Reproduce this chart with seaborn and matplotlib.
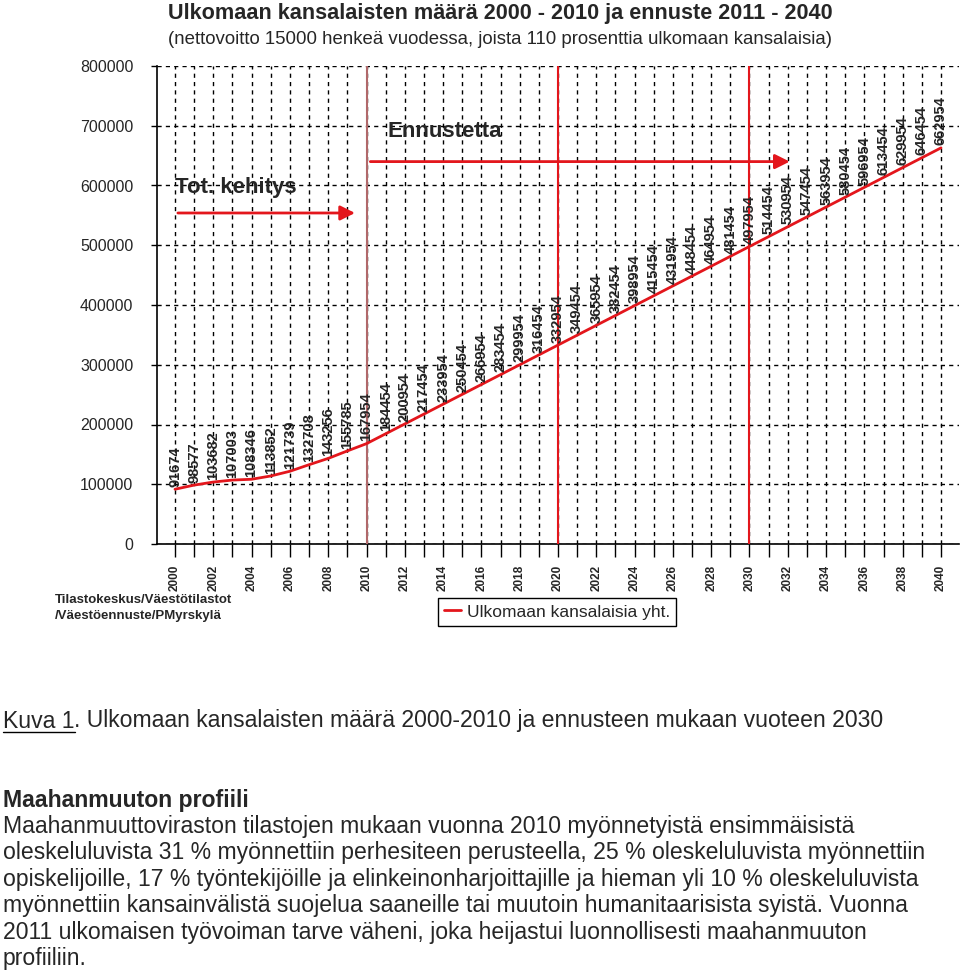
import matplotlib
matplotlib.use("Agg")
import matplotlib.pyplot as plt
from matplotlib.lines import Line2D
import seaborn as sns
import pandas as pd

# data
years = list(range(2000, 2041))
foreigners = [91674, 98577, 103682, 107003, 108346, 113852, 121739, 132708, 143256, 155785,
              167954, 184454, 200954, 217454, 233954, 250454, 266954, 283454, 299954, 316454,
              332954, 349454, 365954, 382454, 398954, 415454, 431954, 448454, 464954, 481454,
              497954, 514454, 530954, 547454, 563954, 580454, 596954, 613454, 629954, 646454,
              662954]
y_ticks = [0, 100000, 200000, 300000, 400000, 500000, 600000, 700000, 800000]
marker_years = [2010, 2020, 2030]

title = "Ulkomaan kansalaisten määrä 2000 - 2010 ja ennuste 2011 - 2040"
subtitle = "(nettovoitto 15000 henkeä vuodessa, joista 110 prosenttia ulkomaan kansalaisia)"
legend_label = "Ulkomaan kansalaisia yht."
history_label = "Tot. kehitys"
forecast_label = "Ennustetta"
source_lines = ["Tilastokeskus/Väestötilastot", "/Väestöennuste/PMyrskylä"]
caption_head = "Kuva 1"
caption_rest = ". Ulkomaan kansalaisten määrä 2000-2010 ja ennusteen mukaan vuoteen 2030"
profile_heading = "Maahanmuuton profiili"
profile_lines = [
    "Maahanmuuttoviraston tilastojen mukaan vuonna 2010 myönnetyistä ensimmäisistä",
    "oleskeluluvista 31 % myönnettiin perhesiteen perusteella, 25 % oleskeluluvista myönnettiin",
    "opiskelijoille, 17 % työntekijöille ja elinkeinonharjoittajille ja hieman yli 10 % oleskeluluvista",
    "myönnettiin kansainvälistä suojelua saaneille tai muutoin humanitaarisista syistä. Vuonna",
    "2011 ulkomaisen työvoiman tarve väheni, joka heijastui luonnollisesti maahanmuuton",
    "profiiliin.",
]

sns.set_style("white")
plt.rcParams['font.family'] = ['Liberation Sans', 'DejaVu Sans']
red = '#e3161c'
body_size = 16.6

df = pd.DataFrame({'vuosi': years, 'maara': foreigners})

W, H = 960, 975
fig = plt.figure(figsize=(9.6, 9.75), dpi=100)
ax = fig.add_axes([157 / W, 431 / H, 802 / W, 478 / H])

sns.lineplot(data=df, x='vuosi', y='maara', color=red, linewidth=2,
             label=legend_label, ax=ax, zorder=5)

ax.set_xlim(1999.06, 2040.94)
ax.set_ylim(0, 800000)
ax.set_xlabel('')
ax.set_ylabel('')
ax.set_yticks(y_ticks)
ax.set_yticklabels([str(v) for v in y_ticks], fontsize=11.5)
ax.set_xticks(years)
ax.set_xticklabels([str(y) if y % 2 == 0 else '' for y in years], rotation=90,
                   fontsize=8.5, fontweight='bold')
ax.grid(True, color='black', linestyle=(0, (3, 3)), linewidth=1)
for s in ['top', 'right']:
    ax.spines[s].set_visible(False)
for s in ['left', 'bottom']:
    ax.spines[s].set_color('black')
    ax.spines[s].set_linewidth(1.2)
ax.tick_params(axis='x', direction='out', length=9, width=1, color='black', pad=6, bottom=True)
ax.tick_params(axis='y', direction='out', length=4, width=1, color='black', pad=13, left=True)

# period markers
ax.axvline(marker_years[0], color='#b0686a', linewidth=1.5, zorder=3)
for yr in marker_years[1:]:
    ax.axvline(yr, color=red, linewidth=1.5, zorder=3)

# value labels
for x, v in zip(years, foreigners):
    ax.text(x, v + 4000, str(v), rotation=90, ha='center', va='bottom',
            fontsize=10.5, fontweight='bold', zorder=6)

# arrows and notes
arrow = dict(arrowstyle='-|>', color=red, lw=2, mutation_scale=22, shrinkA=0, shrinkB=0)
ax.annotate('', xy=(2009.4, 554000), xytext=(2000.15, 554000), arrowprops=arrow)
ax.annotate('', xy=(2032.1, 640000), xytext=(2010.2, 640000), arrowprops=arrow)
ax.text(2000.0, 596000, history_label, fontsize=16, fontweight='bold', va='center')
ax.text(2011.1, 691000, forecast_label, fontsize=16, fontweight='bold', va='center')

leg = ax.legend(loc='center', bbox_to_anchor=(557 / W, 1 - 612 / H), bbox_transform=fig.transFigure,
                frameon=True, fancybox=False, edgecolor='black', framealpha=1,
                handlelength=1.0, handletextpad=0.3, borderpad=0.35, fontsize=12.5)
leg.get_frame().set_linewidth(1)

# titles
fig.text(500 / W, 1 - 14 / H, title, ha='center', va='center', fontsize=15.6, fontweight='bold')
fig.text(500 / W, 1 - 40 / H, subtitle, ha='center', va='center', fontsize=13.4)

for i, line in enumerate(source_lines):
    fig.text(55 / W, 1 - (600 + 16 * i) / H, line, ha='left', va='center', fontsize=9.5,
             fontweight='bold')

# caption with underlined head
cap = fig.text(3 / W, 1 - 721 / H, caption_head, ha='left', va='center', fontsize=body_size)
fig.canvas.draw()
bb = cap.get_window_extent().transformed(fig.transFigure.inverted())
fig.add_artist(Line2D([bb.x0, bb.x1], [bb.y0 + 1 / H, bb.y0 + 1 / H], color='black',
                      linewidth=1, transform=fig.transFigure))
fig.text(bb.x1, 1 - 721 / H, caption_rest, ha='left', va='center', fontsize=body_size)

fig.text(3 / W, 1 - 800 / H, profile_heading, ha='left', va='center', fontsize=body_size,
         fontweight='bold')
for i, line in enumerate(profile_lines):
    fig.text(3 / W, 1 - (826 + 26.6 * i) / H, line, ha='left', va='center', fontsize=body_size)

fig.savefig('out.png', dpi=100)
